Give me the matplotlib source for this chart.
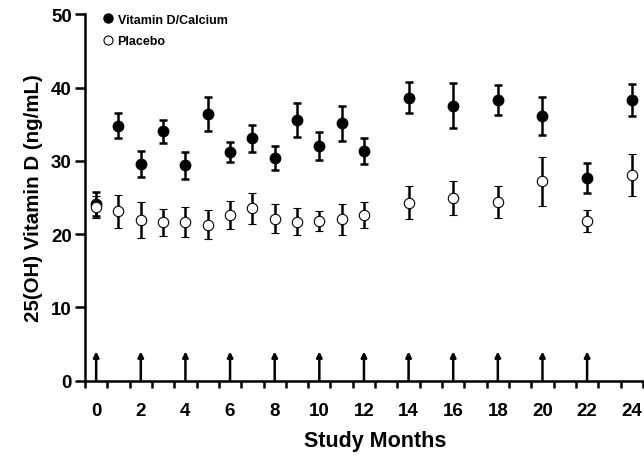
import numpy as np
import matplotlib
matplotlib.use('Agg')
import matplotlib.pyplot as plt
from matplotlib import rc
from matplotlib.lines import Line2D

# months with measurements
months = [0, 1, 2, 3, 4, 5, 6, 7, 8, 9, 10, 11, 12, 14, 16, 18, 20, 22, 24]

# Vitamin D/Calcium group: mean and SE
vitd_mean = [24.1, 34.8, 29.6, 34.0, 29.4, 36.4, 31.2, 33.1, 30.4, 35.6,
             32.0, 35.1, 31.3, 38.6, 37.5, 38.3, 36.1, 27.6, 38.3]
vitd_err = [1.6, 1.7, 1.75, 1.6, 1.85, 2.35, 1.3, 1.85, 1.65, 2.35,
            1.95, 2.35, 1.75, 2.1, 3.05, 2.05, 2.55, 2.05, 2.2]

# Placebo group: mean and SE
plac_mean = [23.7, 23.1, 21.9, 21.6, 21.7, 21.3, 22.6, 23.5, 22.1, 21.7,
             21.8, 22.0, 22.6, 24.3, 24.9, 24.4, 27.2, 21.8, 28.1]
plac_err = [1.5, 2.25, 2.45, 1.85, 2.05, 1.95, 1.95, 2.1, 1.95, 1.8,
            1.4, 2.1, 1.8, 2.25, 2.35, 2.2, 3.35, 1.5, 2.85]

# dosing time points (arrows)
dose_months = [0, 2, 4, 6, 8, 10, 12, 14, 16, 18, 20, 22]
arrow_height = 4

xtick_labels = [0, 2, 4, 6, 8, 10, 12, 14, 16, 18, 20, 22, 24]
ytick_vals = [0, 10, 20, 30, 40, 50]

if __name__ == '__main__':
    rc('font', **{'family': 'sans-serif',
                  'sans-serif': ['Liberation Sans', 'DejaVu Sans'],
                  'size': 11, 'weight': 'bold'})

    fig = plt.figure(figsize=(6.44, 4.6), dpi=100)
    ax = fig.add_axes([0.132, 0.170, 0.868, 0.797])

    ax.errorbar(months, vitd_mean, yerr=vitd_err, fmt='o', color='black',
                mfc='black', mec='black', ms=7.5, elinewidth=1.8,
                capsize=2.8, capthick=1.8, zorder=3)
    ax.errorbar(months, plac_mean, yerr=plac_err, fmt='o', color='black',
                mfc='white', mec='black', mew=0.8, ms=7.5, elinewidth=1.8,
                capsize=2.8, capthick=1.8, zorder=4)

    for m in dose_months:
        ax.annotate('', xy=(m, arrow_height), xytext=(m, 0),
                    arrowprops=dict(arrowstyle='-|>', color='black', lw=1.8,
                                    mutation_scale=8, shrinkA=0, shrinkB=0),
                    zorder=2)

    ax.set_xlim(-0.5, 24.55)
    ax.set_ylim(0, 50)
    ax.spines['top'].set_visible(False)
    ax.spines['right'].set_visible(False)
    ax.spines['left'].set_linewidth(1.8)
    ax.spines['bottom'].set_linewidth(1.8)

    ax.set_xticks(xtick_labels)
    ax.set_xticklabels([str(v) for v in xtick_labels])
    ax.set_xticks(np.arange(-0.5, 24.6, 1.0), minor=True)
    ax.tick_params(axis='x', which='major', length=0, pad=15, labelsize=13.5)
    ax.tick_params(axis='x', which='minor', length=5, width=1.8, direction='out')
    ax.set_yticks(ytick_vals)
    ax.tick_params(axis='y', length=7.5, width=1.8, direction='out', pad=2,
                   labelsize=13.5)

    ax.set_xlabel('Study Months', fontsize=15.5, fontweight='bold')
    ax.xaxis.set_label_coords(0.52, -0.135)
    ax.set_ylabel('25(OH) Vitamin D (ng/mL)', fontsize=14.8, fontweight='bold',
                  labelpad=6)

    handles = [Line2D([], [], ls='none', marker='o', ms=6.5, mfc='black',
                      mec='black'),
               Line2D([], [], ls='none', marker='o', ms=6.5, mfc='white',
                      mec='black', mew=0.8)]
    ax.legend(handles, ['Vitamin D/Calcium', 'Placebo'], loc='upper left',
              bbox_to_anchor=(0.019, 1.025), frameon=False, fontsize=9,
              handlelength=0.6, handletextpad=0.45, labelspacing=0.75,
              borderpad=0.2)

    plt.savefig('out.png', dpi=100)
